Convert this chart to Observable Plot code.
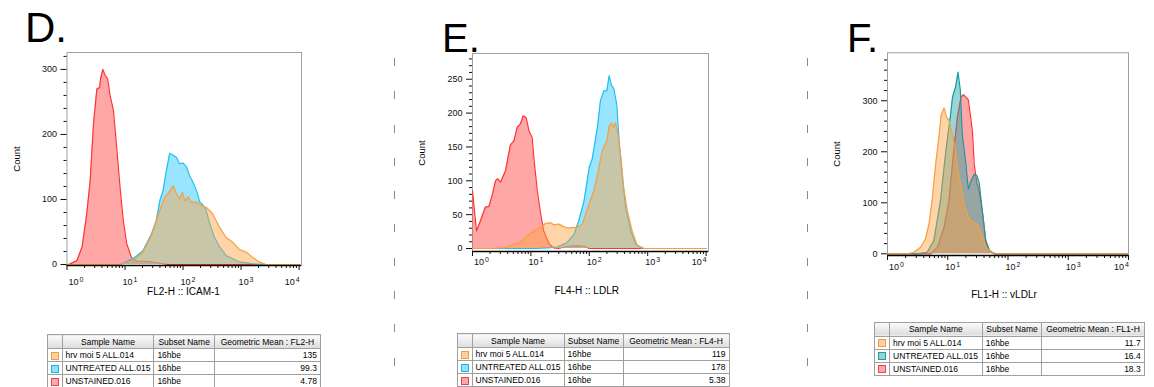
<!DOCTYPE html>
<html><head><meta charset="utf-8">
<script src="https://cdn.jsdelivr.net/npm/d3@7"></script>
<script src="https://cdn.jsdelivr.net/npm/@observablehq/plot@0.6"></script>
<style>
html,body{margin:0;padding:0;background:#fff}
body{width:1154px;height:387px;overflow:hidden;position:relative;font-family:Arial,"Liberation Sans",sans-serif;color:#000}
.panel{position:absolute;top:0}
.letter{position:absolute;line-height:40px;font-size:40px;font-family:"Liberation Sans",Arial,sans-serif}
.ylab{position:absolute;font-size:9.5px;transform:translate(-50%,-50%) rotate(-90deg);white-space:nowrap}
.xlab{position:absolute;font-size:10px;transform:translate(-50%,-50%);white-space:nowrap}
.sep{position:absolute;width:1.5px;top:58px;height:330px;background:repeating-linear-gradient(to bottom,#8a8a8a 0,#8a8a8a 8px,transparent 8px,transparent 33.3px)}
table.stats{position:absolute;border-collapse:collapse;table-layout:fixed;font-size:8.5px;font-family:Arial,"Liberation Sans",sans-serif}
table.stats th,table.stats td{border:1px solid #a0a0a0;padding:0 3px;white-space:nowrap;overflow:hidden}
table.stats th{height:13px;font-weight:normal;text-align:center;background:linear-gradient(#fbfbfb,#dcdcdc)}
table.stats td{height:12px}
table.stats td.num{text-align:right}
.sw{display:inline-block;width:8px;height:8px;box-sizing:border-box;border:1.2px solid;vertical-align:middle}
</style>
</head><body>
<div id="root"></div>
<script>
// ---------- data (x = fluorescence intensity, y = count) ----------
const dHrv = [[1,0],[8.2,0],[13.8,6],[20.4,19],[28.6,45],[39.8,83],[48.5,104],[55,109],[67.6,121],[76.9,109],[87.1,101],[97.7,111],[107,98],[123,104],[138,96],[170,96],[204,91],[251,88],[324,78],[427,57],[550,42],[724,34],[933,23],[1230,19],[1585,11],[2042,4],[2692,0],[10000,0]];
const dUntreated = [[1,0],[8.2,0],[13.8,9],[20.4,21],[28.6,47],[34.7,68],[39.8,98],[45.4,114],[51.8,145],[58.9,171],[67.6,168],[76.9,165],[87.1,155],[100,156],[115,150],[129,137],[148,127],[170,114],[195,96],[219,92],[251,83],[288,63],[347,42],[427,27],[550,14],[724,9],[933,4],[1585,1],[2500,0],[10000,0]];
const dUnstained = [[1,0],[1.07,0],[1.48,6],[1.82,27],[2.19,78],[2.51,129],[2.86,216],[3.27,270],[3.63,272],[3.8,286],[4.14,300],[4.54,291],[5.01,286],[5.53,260],[6.31,237],[7.19,180],[8.2,119],[9.33,68],[10.7,32],[12.9,11],[15.8,5],[20,5],[28,4],[40,2],[55,0],[10000,0]];

const eHrv = [[1,0],[2,0],[3.47,1],[5.13,6],[6.61,9],[8.71,19],[11.2,26],[14.7,31],[17.8,37],[21.9,38],[24.5,35],[30.2,36],[36.8,32],[44.7,30],[51.3,31],[61.7,31],[75.9,36],[92.5,58],[120,85],[147,120],[166,144],[200,159],[219,181],[240,185],[263,179],[282,186],[309,169],[347,135],[389,90],[447,56],[550,24],[661,5],[871,0],[10000,0]];
const eUntreated = [[1,0],[12.9,0],[19.1,1],[28.2,2],[41.7,9],[55,21],[66.1,41],[81.3,70],[100,120],[112,132],[138,179],[155,218],[178,233],[200,233],[219,255],[240,241],[263,236],[295,213],[324,159],[372,100],[417,61],[513,26],[631,6],[813,0],[10000,0]];
const eUnstained = [[1,85],[1.17,26],[1.37,41],[1.66,61],[1.91,62],[2.17,78],[2.48,100],[2.72,103],[3.02,98],[3.68,115],[4.17,140],[4.47,153],[5.13,159],[5.83,179],[6.61,184],[7.41,196],[8.32,193],[9.25,174],[10.5,164],[11.5,125],[12.9,85],[14.7,51],[16.6,26],[20.4,7],[24.5,1],[30,0],[40,3],[60,4],[85,3],[100,0],[10000,0]];

const fHrv = [[1,0],[2.14,0],[2.75,3],[3.55,13],[4.27,29],[4.9,59],[5.5,105],[6.31,176],[7.24,235],[7.76,271],[8.71,286],[9.55,268],[10.5,261],[11.5,242],[13.2,209],[14.5,170],[16.6,131],[18.6,98],[21.4,75],[24,65],[27.5,62],[33.1,52],[38,33],[42.7,13],[52.5,3],[67.6,0],[10000,0]];
const fUntreated = [[1,0],[3.09,0],[4.57,3],[5.89,26],[7.59,105],[9.33,203],[11.2,275],[12,307],[13.5,327],[14.8,356],[16.2,320],[17.4,235],[20,176],[21.9,127],[24,141],[27.5,156],[30.2,154],[33.1,141],[38,78],[42.7,26],[49,7],[58.9,0],[10000,0]];
const fUnstained = [[1,0],[5.25,0],[6.76,13],[8.71,52],[10.5,105],[12.6,203],[14.5,268],[16.6,307],[18.2,312],[20,307],[21.9,302],[24,268],[25.7,239],[27.5,176],[30.2,141],[33.1,124],[38,78],[42.7,26],[49,5],[58.9,0],[10000,0]];

const sampleNames = ["hrv moi 5 ALL.014", "UNTREATED ALL.015", "UNSTAINED.016"];
const subsetNames = ["16hbe", "16hbe", "16hbe"];
const dGeoMeans = ["135", "99.3", "4.78"];
const eGeoMeans = ["119", "178", "5.38"];
const fGeoMeans = ["11.7", "16.4", "18.3"];
const xMajorTicks = [1, 10, 100, 1000, 10000];
const xMinorTicks = [2,3,4,5,6,7,8,9,20,30,40,50,60,70,80,90,200,300,400,500,600,700,800,900,2000,3000,4000,5000,6000,7000,8000,9000];
const dYTicks = [0, 100, 200, 300];
const eYTicks = [0, 50, 100, 150, 200, 250];
const fYTicks = [0, 100, 200, 300];

// ---------- styles ----------
const ORANGE = {fill: "#ffa040", op: 0.45, stroke: "#f5a040", sw: "#fdd0a2", swb: "#f39a45"};
const BLUE   = {fill: "#33ccff", op: 0.5,  stroke: "#1fc0f0", sw: "#8fe2fa", swb: "#1db5e8"};
const RED    = {fill: "#ff5050", op: 0.5,  stroke: "#ff3535", sw: "#f9a9a9", swb: "#e84545"};
const TEAL   = {fill: "#1aa3a3", op: 0.45, stroke: "#159c9c", sw: "#93d3d3", swb: "#1f9e9e"};

const root = document.getElementById("root");
const fmtX = d => "10^" + Math.round(Math.log10(d));

function makePanel(cfg) {
  const series = cfg.series;
  const marks = [Plot.frame({stroke: "#a0a0a0"})];
  for (const s of series) {
    marks.push(Plot.areaY(s.data, {x: d => d[0], y1: 0, y2: d => d[1], fill: s.style.fill, fillOpacity: s.style.op, curve: "linear", clip: true}));
    marks.push(Plot.line(s.data, {x: d => d[0], y: d => d[1], stroke: s.style.stroke, strokeWidth: 1.2, clip: true}));
  }
  const yMinor = d3.range(0, cfg.yDomain[1], cfg.yMinorStep).filter(v => !cfg.yTicks.includes(v));
  marks.push(
    Plot.ruleY([cfg.yDomain[0]], {stroke: "#000", strokeWidth: 1.6}),
    Plot.axisY({ticks: yMinor, tickSize: 3, tickFormat: () => "", label: null}),
    Plot.axisY({ticks: cfg.yTicks, tickSize: 6, tickPadding: 4, label: null, fontSize: 9}),
    Plot.axisX({ticks: xMinorTicks, tickSize: 3, tickFormat: () => "", label: null}),
    Plot.axisX({ticks: xMajorTicks, tickSize: 5, tickFormat: () => "", label: null}),
    Plot.axisX({ticks: xMajorTicks.slice(0, 1), tickSize: 0, tickPadding: cfg.xPad, tickFormat: fmtX, dx: 9, label: null, fontSize: 9}),
    Plot.axisX({ticks: xMajorTicks.slice(1, 4), tickSize: 0, tickPadding: cfg.xPad, tickFormat: fmtX, dx: 5, label: null, fontSize: 9}),
    Plot.axisX({ticks: xMajorTicks.slice(4), tickSize: 0, tickPadding: cfg.xPad, tickFormat: fmtX, dx: -7, label: null, fontSize: 9})
  );
  const chart = Plot.plot({
    width: cfg.width, height: 300,
    marginLeft: cfg.m[0], marginRight: cfg.m[1], marginTop: cfg.m[2], marginBottom: cfg.m[3],
    style: {fontFamily: "Arial, 'Liberation Sans', sans-serif", fontSize: "9px", background: "transparent", color: "#111"},
    x: {type: "log", domain: cfg.xDomain, axis: null, label: null},
    y: {domain: cfg.yDomain, axis: null, label: null},
    marks
  });
  // render "10^n" tick labels as 10 with a raised exponent
  chart.querySelectorAll("text").forEach(t => {
    const m = /^10\^(\d)$/.exec(t.textContent);
    if (!m) return;
    t.textContent = "10";
    const ts = document.createElementNS("http://www.w3.org/2000/svg", "tspan");
    ts.setAttribute("dy", "-0.4em");
    ts.setAttribute("dx", "1");
    ts.setAttribute("font-size", "7");
    ts.textContent = m[1];
    t.appendChild(ts);
  });
  const wrap = document.createElement("div");
  wrap.className = "panel";
  wrap.style.left = cfg.left + "px";
  wrap.appendChild(chart);
  root.appendChild(wrap);

  const letter = document.createElement("div");
  letter.className = "letter";
  letter.textContent = cfg.letter;
  letter.style.left = cfg.letterPos[0] + "px";
  letter.style.top = cfg.letterPos[1] + "px";
  letter.style.fontSize = cfg.letterSize + "px";
  root.appendChild(letter);

  const yl = document.createElement("div");
  yl.className = "ylab"; yl.textContent = "Count";
  yl.style.left = cfg.yLabPos[0] + "px"; yl.style.top = cfg.yLabPos[1] + "px";
  root.appendChild(yl);

  const xl = document.createElement("div");
  xl.className = "xlab"; xl.textContent = cfg.xTitle;
  xl.style.left = cfg.xLabPos[0] + "px"; xl.style.top = cfg.xLabPos[1] + "px";
  root.appendChild(xl);

  // stats table
  const t = document.createElement("table");
  t.className = "stats";
  t.style.left = cfg.table.left + "px";
  t.style.top = cfg.table.top + "px";
  const cg = document.createElement("colgroup");
  for (const w of cfg.table.cols) { const c = document.createElement("col"); c.style.width = w + "px"; cg.appendChild(c); }
  t.appendChild(cg);
  const hr = document.createElement("tr");
  ["", "Sample Name", "Subset Name", "Geometric Mean : " + cfg.channel].forEach(h => { const th = document.createElement("th"); th.textContent = h; hr.appendChild(th); });
  t.appendChild(hr);
  series.slice().reverse().forEach((s, i) => {
    const tr = document.createElement("tr");
    const td0 = document.createElement("td");
    td0.style.textAlign = "center";
    const sw = document.createElement("span");
    sw.className = "sw"; sw.style.background = s.style.sw; sw.style.borderColor = s.style.swb;
    td0.appendChild(sw); tr.appendChild(td0);
    const td1 = document.createElement("td"); td1.textContent = sampleNames[i]; tr.appendChild(td1);
    const td2 = document.createElement("td"); td2.textContent = subsetNames[i]; tr.appendChild(td2);
    const td3 = document.createElement("td"); td3.className = "num"; td3.textContent = cfg.geo[i]; tr.appendChild(td3);
    t.appendChild(tr);
  });
  root.appendChild(t);
}

makePanel({
  letter: "D.", letterPos: [25, 8], letterSize: 42,
  left: 0, width: 320, m: [66.5, 19, 52, 35], xDomain: [1, 11000], yDomain: [-1.5, 326], yTicks: dYTicks, yMinorStep: 20, xPad: 13,
  series: [{data: dUnstained, style: RED}, {data: dUntreated, style: BLUE}, {data: dHrv, style: ORANGE}],
  xTitle: "FL2-H :: ICAM-1", xLabPos: [183.5, 291], yLabPos: [15.5, 159], channel: "FL2-H", geo: dGeoMeans,
  table: {left: 46.5, top: 334, cols: [14, 91, 60.5, 106]}
});
makePanel({
  letter: "E.", letterPos: [442, 18], letterSize: 40,
  left: 400, width: 330, m: [72, 22, 53, 49], xDomain: [1, 11000], yDomain: [-4.4, 288], yTicks: eYTicks, yMinorStep: 10, xPad: 7,
  series: [{data: eUnstained, style: RED}, {data: eUntreated, style: BLUE}, {data: eHrv, style: ORANGE}],
  xTitle: "FL4-H :: LDLR", xLabPos: [586.7, 289.5], yLabPos: [421, 152.5], channel: "FL4-H", geo: eGeoMeans,
  table: {left: 456.5, top: 333, cols: [14, 92, 59, 106]}
});
makePanel({
  letter: "F.", letterPos: [847, 18], letterSize: 40,
  left: 820, width: 334, m: [67, 26, 52.3, 45], xDomain: [1, 10000], yDomain: [-3.3, 394], yTicks: fYTicks, yMinorStep: 20, xPad: 8,
  series: [{data: fUnstained, style: RED}, {data: fUntreated, style: TEAL}, {data: fHrv, style: ORANGE}],
  xTitle: "FL1-H :: vLDLr", xLabPos: [1004, 294], yLabPos: [835.5, 154], channel: "FL1-H", geo: fGeoMeans,
  table: {left: 874, top: 321.5, cols: [14.3, 92.7, 59.7, 102.3]}
});

// dashed separators between panels
for (const x of [393.5, 806.5]) {
  const s = document.createElement("div");
  s.className = "sep"; s.style.left = x + "px";
  root.appendChild(s);
}
</script>
</body></html>
